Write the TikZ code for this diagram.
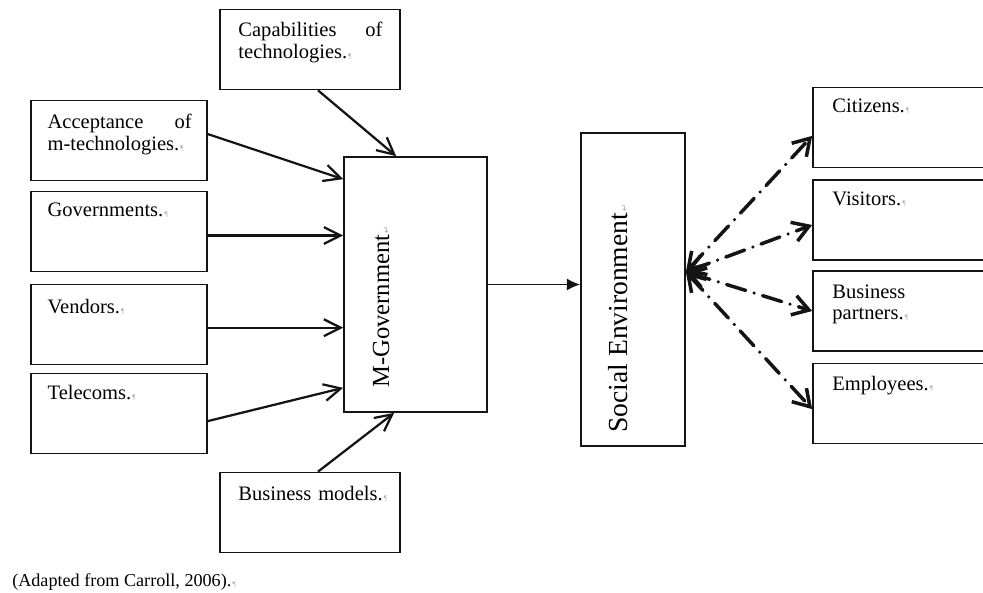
\documentclass[tikz,border=0pt]{standalone}
\usepackage{fontspec}
\setmainfont{Liberation Serif}
\newfontfamily\symfont{DejaVu Sans}
\usepackage{xcolor}
\usetikzlibrary{arrows.meta,calc}
\definecolor{figline}{RGB}{20,20,20}
\definecolor{figmark}{RGB}{165,165,165}
\newcommand{\wmark}{{\color{figmark}\fontsize{5}{5}\selectfont\,¶}}
\newcommand{\lmark}{{\color{figmark}\symfont\fontsize{6}{6}\selectfont\,↵}}
\tikzset{
  box/.style   ={draw=figline, line width=1.2pt, minimum width=4.4cm, minimum height=2cm, inner sep=0pt},
  txt/.style   ={font=\fontsize{14.6}{15.6}\selectfont, text width=3.6cm, align=left, inner sep=0pt, anchor=north west},
  rot/.style   ={rotate=90, anchor=west, inner sep=0pt},
  inarr/.style ={draw=figline, line width=1.6pt, -{Straight Barb[length=0.42cm,width=0.42cm]}},
  midarr/.style={draw=figline, line width=1.1pt, -{Latex[length=0.33cm,width=0.3cm]}},
  outarr/.style={draw=figline, line width=2.5pt, line cap=round, dash pattern=on 0.5cm off 0.22cm on 0pt off 0.22cm,
                 {Straight Barb[length=0.4cm,width=0.5cm]}-{Straight Barb[length=0.4cm,width=0.5cm]}},
}

\begin{document}
\begin{tikzpicture}[scale=1]
  \useasboundingbox (0,0) rectangle (24.575,14.8);
  \clip (0,0) rectangle (24.575,14.8);
  \node[box, minimum width=4.5cm] (cap) at (7.75,13.5625) {};
  \node[txt] (capt) at ([shift={(0.475,-0.33)}]cap.north west) {Capabilities\hfill of\\technologies.\wmark};
  \node[box] (acc) at (2.975,11.2875) {};
  \node[txt] (acct) at ([shift={(0.43,-0.36)}]acc.north west) {Acceptance\hfill of\\m-technologies.\wmark};
  \node[box] (gov) at (2.975,9.0125) {};
  \node[txt] (govt) at ([shift={(0.43,-0.3)}]gov.north west) {Governments.\wmark};
  \node[box] (ven) at (2.975,6.6875) {};
  \node[txt] (vent) at ([shift={(0.43,-0.38)}]ven.north west) {Vendors.\wmark};
  \node[box] (tel) at (2.975,4.4625) {};
  \node[txt] (telt) at ([shift={(0.43,-0.3)}]tel.north west) {Telecoms.\wmark};
  \node[box, minimum width=4.5cm] (bus) at (7.75,1.9875) {};
  \node[txt, text width=4cm] (bust) at ([shift={(0.475,-0.37)}]bus.north west) {Business models.\wmark};

  \node[box, minimum width=3.575cm, minimum height=6.375cm] (mgov) at (10.3875,7.6875) {};
  \node[rot, font=\fontsize{17.5}{18}\selectfont] (mgovt) at ([xshift=-0.86cm,yshift=0.625cm]mgov.south) {M-Government\lmark};
  \node[box, minimum width=2.6cm, minimum height=7.825cm] (soc) at (15.825,7.5625) {};
  \node[rot, font=\fontsize{19.6}{20}\selectfont] (soct) at ([xshift=-0.385cm,yshift=0.35cm]soc.south) {Social Environment\lmark};

  \node[box, minimum width=4.675cm] (cit) at (22.6625,11.6125) {};
  \node[txt] (citt) at ([shift={(0.5,-0.3)}]cit.north west) {Citizens.\wmark};
  \node[box, minimum width=4.675cm] (vis) at (22.6625,9.3) {};
  \node[txt] (vist) at ([shift={(0.5,-0.3)}]vis.north west) {Visitors.\wmark};
  \node[box, minimum width=4.675cm] (bpa) at (22.6625,7.025) {};
  \node[txt] (bpat) at ([shift={(0.5,-0.35)}]bpa.north west) {Business\\partners.\wmark};
  \node[box, minimum width=4.675cm] (emp) at (22.6625,4.7125) {};
  \node[txt] (empt) at ([shift={(0.5,-0.33)}]emp.north west) {Employees.\wmark};

  \node[font=\fontsize{12.9}{14}\selectfont, anchor=west, inner sep=0pt] (src) at (0.3,0.25) {(Adapted from Carroll, 2006).\wmark};

  \draw[inarr] ([xshift=0.2cm]cap.south) -- ([xshift=1.325cm]mgov.north west);
  \draw[inarr] ([yshift=0.16cm]acc.east) -- ([yshift=-0.575cm]mgov.north west);
  \draw[inarr] ([yshift=-0.1cm]gov.east) -- ([yshift=-0.1cm]gov.east -| mgov.west);
  \draw[inarr] ([yshift=-0.08cm]ven.east) -- ([yshift=-0.08cm]ven.east -| mgov.west);
  \draw[inarr] ([yshift=-0.19cm]tel.east) -- ([yshift=0.625cm]mgov.south west);
  \draw[inarr] ([xshift=0.2cm]bus.north) -- ([xshift=1.275cm]mgov.south west);
  \draw[midarr] (mgov.east) -- (mgov.east -| soc.west);
  \coordinate (hub) at ([yshift=0.44cm]soc.east);
  \draw[outarr] (hub) -- ([yshift=-0.21cm]cit.west);
  \draw[outarr] (hub) -- ([yshift=-0.125cm]vis.west);
  \draw[outarr] (hub) -- (bpa.west);
  \draw[outarr] (hub) -- ([yshift=-0.14cm]emp.west);
\end{tikzpicture}
\end{document}
